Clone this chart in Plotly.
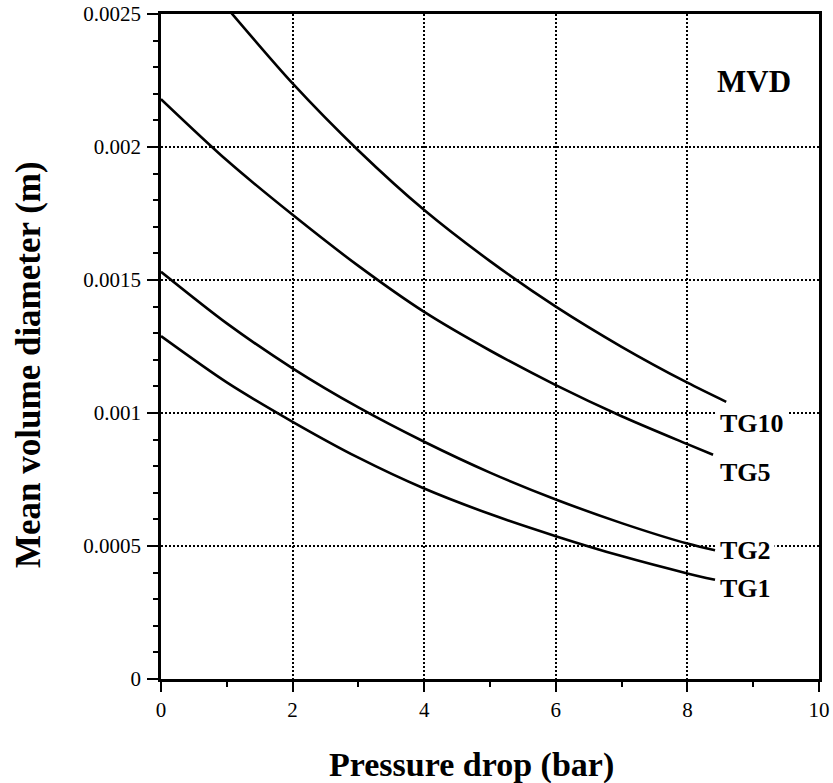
import plotly.graph_objects as go

# Data (pressure drop in bar, MVD in m)
tg1_x = [0, 1, 2, 3, 4, 5, 6, 7, 8, 8.42]
tg1_y = [0.001289, 0.001115, 0.000967, 0.000832, 0.000716, 0.000620, 0.000537, 0.000462, 0.000397, 0.000373]

tg2_x = [0, 1, 2, 3, 4, 5, 6, 7, 8, 8.42]
tg2_y = [0.001531, 0.001337, 0.001168, 0.001021, 0.000892, 0.000776, 0.000675, 0.000586, 0.000509, 0.000484]

tg5_x = [0, 1, 2, 3, 4, 5, 6, 7, 8, 8.39]
tg5_y = [0.002180, 0.001950, 0.001745, 0.001553, 0.001380, 0.001235, 0.001105, 0.000988, 0.000883, 0.000843]

tg10_x = [1, 2, 3, 4, 5, 6, 7, 8, 8.59]
tg10_y = [0.002524, 0.002239, 0.001987, 0.001763, 0.001571, 0.001400, 0.001249, 0.001114, 0.001042]

series_names = ["TG1", "TG2", "TG5", "TG10"]
label_y = [0.00034, 0.000483, 0.000778, 0.000960]
label_x = 8.44

y_tickvals = [0, 0.0005, 0.001, 0.0015, 0.002, 0.0025]
y_ticktext = ["0", "0.0005", "0.001", "0.0015", "0.002", "0.0025"]
x_tickvals = [0, 2, 4, 6, 8, 10]

SERIF = "Liberation Serif, Times New Roman, serif"

W, H = 833, 783
PL, PR, PT, PB = 161, 819, 14, 679  # plot area in page pixels


def px(xp):
    return (xp - PL) / (PR - PL)


def py(yp):
    return (PB - yp) / (PB - PT)


fig = go.Figure()
for xs, ys, name in zip([tg1_x, tg2_x, tg5_x, tg10_x], [tg1_y, tg2_y, tg5_y, tg10_y], series_names):
    fig.add_trace(go.Scatter(x=xs, y=ys, mode="lines", name=name,
                             line=dict(color="black", width=2.6, shape="spline", smoothing=0.8),
                             showlegend=False, hoverinfo="x+y+name"))

for name, ly in zip(series_names, label_y):
    fig.add_annotation(x=label_x, y=ly, xref="x", yref="y", text="<b>%s</b>" % name,
                       showarrow=False, xanchor="left", yanchor="middle",
                       font=dict(family=SERIF, size=26, color="black"),
                       bgcolor="white", borderpad=3)

fig.add_annotation(x=px(754), y=py(81), xref="paper", yref="paper", text="<b>MVD</b>",
                   showarrow=False, xanchor="center", yanchor="middle",
                   font=dict(family=SERIF, size=31, color="black"))

fig.add_annotation(xref="paper", yref="paper", x=px(471), y=py(765),
                   text="<b>Pressure drop (bar)</b>", showarrow=False,
                   xanchor="center", yanchor="middle",
                   font=dict(family=SERIF, size=34, color="black"))
fig.add_annotation(xref="paper", yref="paper", x=px(28), y=py(365),
                   text="<b>Mean volume diameter (m)</b>", showarrow=False, textangle=-90,
                   xanchor="center", yanchor="middle",
                   font=dict(family=SERIF, size=35, color="black"))

fig.update_layout(
    width=W, height=H,
    margin=dict(l=PL, r=W - PR, t=PT, b=H - PB, autoexpand=False),
    paper_bgcolor="white", plot_bgcolor="white",
    font=dict(family=SERIF, size=21, color="black"),
    showlegend=False,
)

fig.update_xaxes(range=[0, 10], tickvals=x_tickvals, ticktext=[str(v) for v in x_tickvals],
                 ticks="outside", ticklen=10, tickwidth=2, tickcolor="black",
                 minor=dict(dtick=1, ticks="outside", ticklen=5, tickwidth=2, tickcolor="black", showgrid=False),
                 showline=True, linecolor="black", linewidth=2.5, mirror=True,
                 showgrid=True, gridcolor="black", gridwidth=1.6, griddash="2px,2px",
                 zeroline=False, ticklabelstandoff=0, automargin=False,
                 tickfont=dict(family=SERIF, size=21, color="black"))
fig.update_yaxes(range=[0, 0.0025], tickvals=y_tickvals, ticktext=y_ticktext,
                 ticks="outside", ticklen=11, tickwidth=2, tickcolor="black",
                 minor=dict(dtick=0.0001, tick0=0, ticks="outside", ticklen=5, tickwidth=2, tickcolor="black", showgrid=False),
                 showline=True, linecolor="black", linewidth=2.5, mirror=True,
                 showgrid=True, gridcolor="black", gridwidth=1.6, griddash="2px,2px",
                 zeroline=False, ticklabelstandoff=2, automargin=False,
                 tickfont=dict(family=SERIF, size=21, color="black"))

fig.write_html("out.html")
